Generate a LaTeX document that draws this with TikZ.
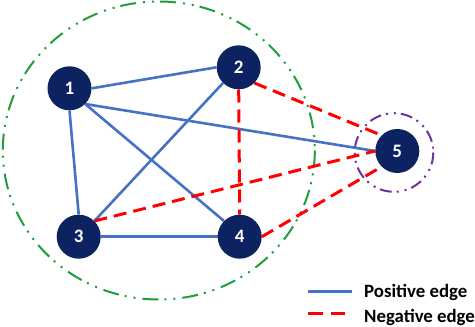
\documentclass[tikz,border=0pt]{standalone}
\usepackage{fontspec}
\setmainfont{Carlito}
\usetikzlibrary{backgrounds}
\definecolor{navy}{HTML}{0D2260}
\definecolor{posblue}{HTML}{4472C4}
\definecolor{negred}{HTML}{FF0000}
\definecolor{grpgreen}{HTML}{1F9E3C}
\definecolor{grppurple}{HTML}{7030A0}
\tikzset{
  vertex/.style={circle, fill=navy, minimum size=44pt, inner sep=0pt, text=white, font=\fontsize{19}{19}\selectfont\bfseries},
  posedge/.style={draw=posblue, line width=2.6pt},
  negedge/.style={draw=negred, line width=3pt, dash pattern=on 13pt off 7pt},
  greengroup/.style={draw=grpgreen, line width=2pt, dash pattern=on 16pt off 7pt on 2pt off 7pt on 2pt off 6pt},
  purplegroup/.style={draw=grppurple, line width=2pt, dash pattern=on 12pt off 5pt on 2pt off 6pt on 2pt off 5pt},
  legendtext/.style={anchor=base west, inner sep=0pt, font=\fontsize{18.8}{18.8}\selectfont\bfseries}
}
\begin{document}
\begin{tikzpicture}[x=1pt,y=-1pt]
\useasboundingbox (0,0) rectangle (475,327);
% nodes
\node[vertex] (n1) at (69.5,88.3) {1};
\node[vertex] (n2) at (238.7,67.3) {2};
\node[vertex] (n3) at (78.7,236.7) {3};
\node[vertex] (n4) at (239.7,236.7) {4};
\node[vertex] (n5) at (397.3,151) {5};
\begin{pgfonlayer}{background}
% groups
\draw[greengroup] (158.8,150.5) ellipse [x radius=156, y radius=149];
\draw[purplegroup] (394,152.5) circle [radius=39.3];
% edges
\path[posedge] (n1.east) -- (n2.west);
\path[posedge] (n1.south) -- (n3.north);
\path[posedge] (n1.south east) -- (n4.north west);
\path[posedge] (n1.south east) -- (n5.west);
\path[posedge] (n2.south west) -- (n3.north east);
\path[posedge] (n3.east) -- (n4.west);
\path[negedge] (n2.south) -- (n4.north);
\path[negedge] (n2.south east) -- (n5.north west);
\path[negedge] (n3.north east) -- (n5.west);
\path[negedge] (n4.east) -- (n5.south west);
\end{pgfonlayer}
% legend
\coordinate (lp1) at (308,291.5);
\coordinate (lp2) at (352,291.5);
\coordinate (ln1) at (308,313.3);
\coordinate (ln2) at (345,313.3);
\path[posedge] (lp1) -- (lp2);
\path[negedge, dash pattern=on 15pt off 8pt] (ln1) -- (ln2);
\node[legendtext] (tpos) at (364,297.7) {Positive edge};
\node[legendtext] (tneg) at (364,322.5) {Negative edge};
\end{tikzpicture}
\end{document}
